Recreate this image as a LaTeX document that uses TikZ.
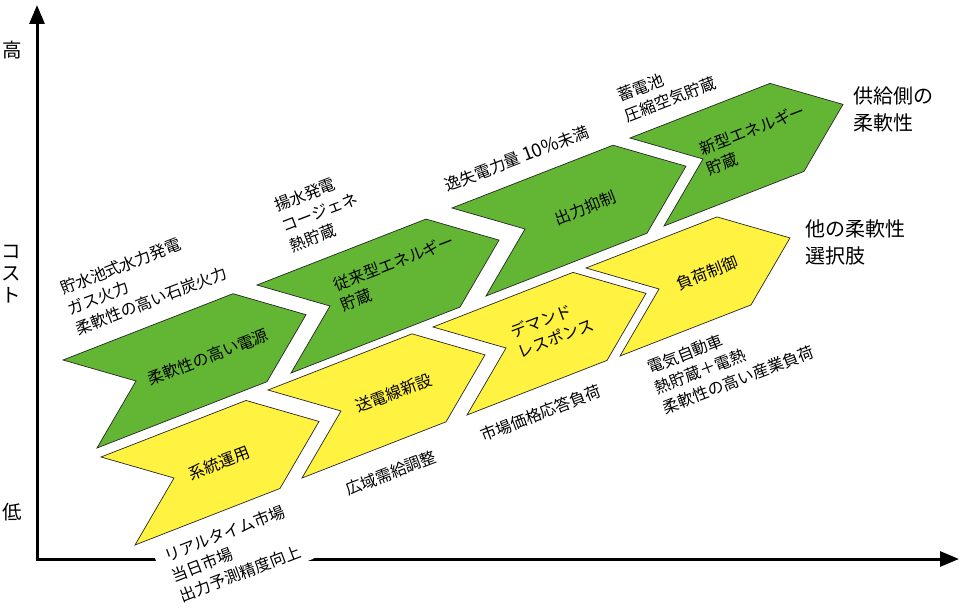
\documentclass[tikz,border=0pt]{standalone}
\usepackage{fontspec}
\setmainfont{Noto Sans CJK JP}
\usetikzlibrary{arrows.meta}
\definecolor{cgreen}{RGB}{98,182,52}
\definecolor{cyellow}{RGB}{255,242,64}
\newcommand\mychev[4]{%
  \filldraw[chevbox, fill=#1] (#2,#3) -- ++(#4,{-0.39*#4}) -- ++(73,21) -- ++(-39,67)
    -- ++({-#4},{0.39*#4}) -- ++(39,-67) -- cycle;}
\begin{document}
\begin{tikzpicture}[x=1pt,y=-1pt,
  chevbox/.style={draw=black!85, line width=0.7pt, line join=miter},
  inlabel/.style={rotate=21, inner sep=0pt, font=\fontsize{16}{21}\selectfont},
  outlabel/.style={rotate=21, inner sep=0pt, align=left, anchor=base west, font=\fontsize{16}{21.5}\selectfont},
  sidelabel/.style={inner sep=0pt, align=left, anchor=base west, font=\fontsize{20}{27}\selectfont},
  axislabel/.style={inner sep=0pt, align=center, font=\fontsize{19.5}{22}\selectfont},
  axisline/.style={line width=3pt, line join=miter, {Triangle[length=19pt,width=15pt]}-{Triangle[length=19pt,width=15pt]}}
]
\useasboundingbox (0,0) rectangle (960,612);

% chevrons
\mychev{cgreen}{63}{360}{170}
\mychev{cgreen}{257}{285}{169}
\mychev{cgreen}{452}{208}{161}
\mychev{cgreen}{630}{138}{140}
\mychev{cyellow}{101}{457}{145}
\mychev{cyellow}{268}{390}{144}
\mychev{cyellow}{433}{327}{140}
\mychev{cyellow}{586}{268}{131}

% labels inside chevrons (multi-line: anchor at last line's baseline)
\node[inlabel] (g1t) at (208,357) {柔軟性の高い電源};
\node[inlabel, align=left, anchor=base west] (g2t) at (343.7,311.1) {従来型エネルギー\\貯蔵};
\node[inlabel] (g3t) at (585,208) {出力抑制};
\node[inlabel, align=left, anchor=base west] (g4t) at (709.7,175.1) {新型エネルギー\\貯蔵};
\node[inlabel] (y1t) at (219,463) {系統運用};
\node[inlabel] (y2t) at (394,393) {送電線新設};
\node[inlabel, align=left, anchor=base west] (y3t) at (520.7,358.1) {デマンド\\レスポンス};
\node[inlabel] (y4t) at (707,273) {負荷制御};

% axes
\coordinate (ytop) at (37,5);
\coordinate (O) at (37,559);
\coordinate (xend) at (959,559);
\draw[axisline] (ytop) -- (O) -- (xend);

% outer labels
\node[outlabel] (l1) at (78.4,335.2) {貯水池式水力発電\\ガス火力\\柔軟性の高い石炭火力};
\node[outlabel] (l2) at (292.4,252.2) {揚水発電\\コージェネ\\熱貯蔵};
\node[outlabel] (l3) at (447,192) {逸失電力量 {\fontsize{18.5}{21.5}\selectfont 10\%}未満};
\node[outlabel] (l4) at (627.7,122.1) {蓄電池\\圧縮空気貯蔵};
\node[outlabel] (l5) at (483,442) {市場価格応答負荷};
\node[outlabel] (l6) at (348,496) {広域需給調整};
\node[outlabel] (l7) at (665.4,414.2) {電気自動車\\熱貯蔵＋電熱\\柔軟性の高い産業負荷};
\node[outlabel, fill=white, inner xsep=10pt, inner ysep=5pt] (l8) at (173.1,605.8) {リアルタイム市場\\当日市場\\出力予測精度向上};

% side labels
\node[sidelabel] (s1) at (853,131) {供給側の\\柔軟性};
\node[sidelabel] (s2) at (805,263) {他の柔軟性\\選択肢};

% axis labels
\node[axislabel] (hi) at (12,50) {高};
\node[axislabel] (cost) at (11,274) {コ\\ス\\ト};
\node[axislabel] (lo) at (12,512) {低};
\end{tikzpicture}
\end{document}
